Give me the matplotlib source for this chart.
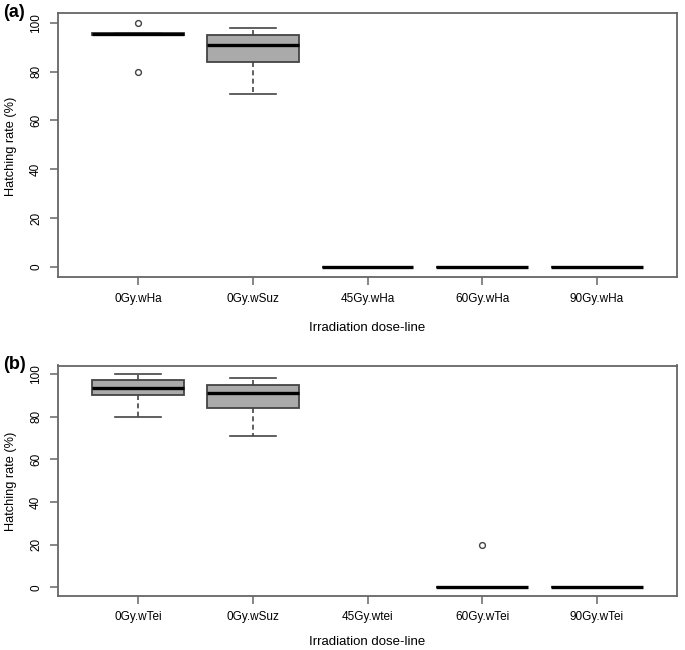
import matplotlib
matplotlib.use('Agg')
import matplotlib.pyplot as plt

plt.rcParams['font.family'] = ['Liberation Sans', 'DejaVu Sans']

# ---- Panel (a) data ----
labels_a = ['0Gy.wHa', '0Gy.wSuz', '45Gy.wHa', '60Gy.wHa', '90Gy.wHa']
whislo_a = [95, 71, 0, 0, 0]
q1_a = [95, 84, 0, 0, 0]
med_a = [95.5, 91, 0, 0, 0]
q3_a = [96, 95, 0, 0, 0]
whishi_a = [96, 98, 0, 0, 0]
fliers_a = [[80, 100], [], [], [], []]

# ---- Panel (b) data (45Gy.wtei has no data) ----
labels_b = ['0Gy.wTei', '0Gy.wSuz', '45Gy.wtei', '60Gy.wTei', '90Gy.wTei']
whislo_b = [80, 71, None, 0, 0]
q1_b = [90, 84, None, 0, 0]
med_b = [93.5, 91.3, None, 0, 0]
q3_b = [97, 95, None, 0, 0]
whishi_b = [100, 98, None, 0, 0]
fliers_b = [[], [], [], [20], []]

yticks = [0, 20, 40, 60, 80, 100]

W, H = 685, 650
fig = plt.figure(figsize=(W / 100, H / 100), dpi=100)

FRAME = '#666666'
EDGE = '#444444'


def make_stats(wl, q1, med, q3, wh, fl):
    stats, pos = [], []
    for i in range(len(wl)):
        if wl[i] is None:
            continue
        stats.append(dict(whislo=wl[i], q1=q1[i], med=med[i], q3=q3[i],
                          whishi=wh[i], fliers=fl[i]))
        pos.append(i + 1)
    return stats, pos


def draw_panel(rect, labels, wl, q1, med, q3, wh, fl, tag, tag_y, ylab_y,
               xlab_y, pad):
    ax = fig.add_axes(rect)
    stats, pos = make_stats(wl, q1, med, q3, wh, fl)
    ax.bxp(stats, positions=pos, widths=0.8, patch_artist=True,
           boxprops=dict(facecolor='#aaaaaa', edgecolor=EDGE, linewidth=1.3),
           medianprops=dict(color='black', linewidth=2.4, solid_capstyle='butt'),
           whiskerprops=dict(color=EDGE, linewidth=1.2, linestyle=(0, (3, 2))),
           capprops=dict(color=EDGE, linewidth=1.2),
           capwidths=0.4,
           flierprops=dict(marker='o', markerfacecolor='none',
                           markeredgecolor=EDGE, markersize=4.2,
                           markeredgewidth=1.0))
    ax.set_xlim(0.3, 5.7)
    ax.set_ylim(-4, 104)
    ax.set_xticks(range(1, len(labels) + 1))
    ax.set_xticklabels(labels)
    ax.set_yticks(yticks)
    ax.set_yticklabels([str(t) for t in yticks], rotation=90, va='center')
    for s in ax.spines.values():
        s.set_color(FRAME)
        s.set_linewidth(1.3)
    ax.tick_params(axis='both', direction='out', length=5.5, width=1.1,
                   color=FRAME, labelsize=8.5, labelcolor='black')
    ax.tick_params(axis='x', pad=pad)
    ax.tick_params(axis='y', pad=6)
    fig.text(14 / W, 1 - tag_y / H, tag, fontsize=13, fontweight='bold',
             ha='center', va='center')
    fig.text(11.5 / W, 1 - ylab_y / H, 'Hatching rate (%)', fontsize=9.2,
             rotation=90, ha='center', va='center')
    fig.text(367.5 / W, 1 - xlab_y / H, 'Irradiation dose-line', fontsize=9.5,
             ha='center', va='center')
    return ax


left = 58 / W
width = (677 - 58) / W
draw_panel([left, 1 - 276.5 / H, width, (276.5 - 13) / H],
           labels_a, whislo_a, q1_a, med_a, q3_a, whishi_a, fliers_a,
           '(a)', 12.5, 146, 328, 6.5)
draw_panel([left, 1 - 596 / H, width, (596 - 365.5) / H],
           labels_b, whislo_b, q1_b, med_b, q3_b, whishi_b, fliers_b,
           '(b)', 364.5, 481, 642, 5.5)

fig.savefig('out.png', dpi=100)
